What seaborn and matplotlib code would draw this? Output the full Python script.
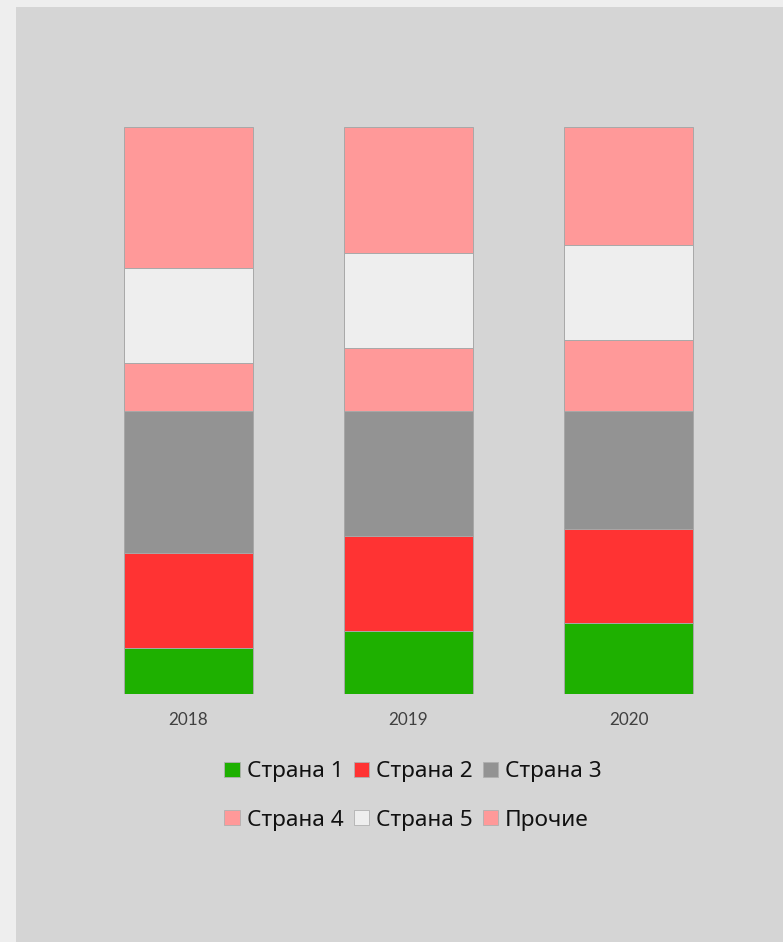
import numpy as np
import pandas as pd
import seaborn as sns
from matplotlib import pyplot as plt
from matplotlib.patches import Rectangle, Patch

years = ["2018", "2019", "2020"]
series_names = ["Страна 1", "Страна 2", "Страна 3", "Страна 4", "Страна 5", "Прочие"]
strana_1 = [8.1, 11.1, 12.5]
strana_2 = [16.8, 16.8, 16.6]
strana_3 = [25.0, 22.0, 20.8]
strana_4 = [8.5, 11.1, 12.5]
strana_5 = [16.8, 16.8, 16.8]
prochie = [24.8, 22.2, 20.8]
colors = ["#1eb000", "#ff3333", "#939393", "#ff9999", "#eeeeee", "#ff9999"]

sns.set_theme(style="white")
plt.rcParams["font.family"] = ["Noto Sans", "DejaVu Sans"]

values = np.array([strana_1, strana_2, strana_3, strana_4, strana_5, prochie])
cum = np.cumsum(values, axis=0)

fig = plt.figure(figsize=(7.83, 9.42), dpi=100)
fig.patch.set_facecolor("#eeeeee")
fig.patches.append(
    Rectangle((16 / 783, 0), 1 - 16 / 783, 935 / 942,
              transform=fig.transFigure, facecolor="#d5d5d5", edgecolor="none", zorder=-5)
)
ax = fig.add_axes([78.5 / 783, 248 / 942, 660 / 783, 567 / 942])
ax.set_facecolor("none")
ax.set_zorder(2)

# draw the stack top-down so each layer covers the one above it
for i in range(len(series_names) - 1, -1, -1):
    df = pd.DataFrame({"year": years, "value": cum[i]})
    sns.barplot(
        data=df, x="year", y="value", ax=ax, color=colors[i], saturation=1,
        width=0.586, edgecolor="#a8a8a8", linewidth=0.7,
    )

ax.set_ylim(0, 100)
ax.set_xlim(-0.5, 2.5)
ax.set_yticks([])
ax.set_xlabel("")
ax.set_ylabel("")
for s in ax.spines.values():
    s.set_visible(False)
ax.tick_params(axis="x", length=0, pad=13, labelsize=12.3, labelcolor="#404040")
for lbl in ax.get_xticklabels():
    lbl.set_family(["Lato", "DejaVu Sans"])

handles = [Patch(facecolor=c, edgecolor="#b0b0b0", linewidth=0.6, label=n)
           for c, n in zip(colors, series_names)]
order = [0, 3, 1, 4, 2, 5]
leg = fig.legend(
    [handles[k] for k in order], [series_names[k] for k in order],
    ncol=3, loc="center", bbox_to_anchor=(413 / 783, 146 / 942),
    frameon=False, fontsize=16.3, handlelength=0.68, handleheight=0.68,
    handletextpad=0.3, columnspacing=0.45, labelspacing=1.2,
    labelcolor="#111111",
)
leg.set_zorder(3)

plt.savefig("out.png", dpi=100, facecolor=fig.get_facecolor())
plt.close()
